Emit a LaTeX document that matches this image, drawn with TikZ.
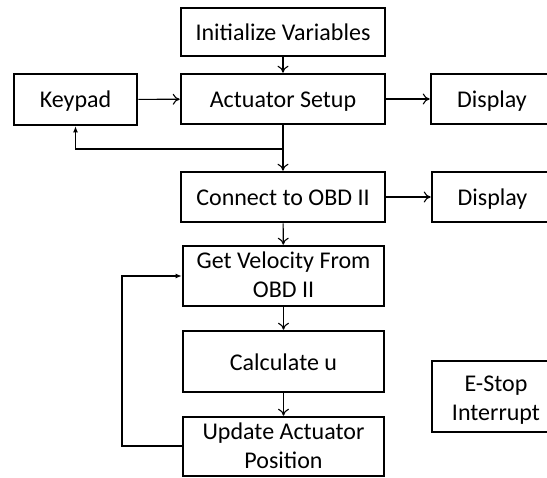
\documentclass[tikz,border=0pt]{standalone}
\usepackage{fontspec}
\setmainfont{Carlito}
\usetikzlibrary{arrows.meta}
\begin{document}
\begin{tikzpicture}
			[x=1pt, y=-1pt,
			box/.style={rectangle, draw, line width=2.6pt, inner sep=0pt, align=center,
				text depth=0pt, text height=18pt, font=\fontsize{24}{29.5}\selectfont},
			arr/.style={line width=1.1pt, -{To[length=7pt,width=11pt]}},
			fb/.style={line width=1.1pt, -{Latex[length=6pt,width=5pt]}}]
			\useasboundingbox (0,0) rectangle (547,478);
			\node[box, minimum width=204pt, minimum height=48pt] (init) at (283,32) {Initialize Variables};
			\node[box, minimum width=204pt, minimum height=50pt] (act) at (283,99) {Actuator Setup};
			\node[box, minimum width=123pt, minimum height=51pt, text height=16pt] (kp) at (75.5,99.5) {Keypad};
			\node[box, minimum width=122pt, minimum height=50pt] (disp1) at (492,99) {Display};
			\node[box, minimum width=204pt, minimum height=50pt, text height=17pt] (conn) at (283,197) {Connect to OBD II};
			\node[box, minimum width=121pt, minimum height=50pt] (disp2) at (492.5,197) {Display};
			\node[box, minimum width=201pt, minimum height=60pt, text height=44pt] (vel) at (283.5,276) {Get Velocity From\\OBD II};
			\node[box, minimum width=201pt, minimum height=61pt] (calc) at (283.5,361.5) {Calculate u};
			\node[box, minimum width=201pt, minimum height=59pt, text height=45pt] (upd) at (283.5,446.5) {Update Actuator\\Position};
			\node[box, minimum width=128pt, minimum height=71pt, text height=49pt] (estop) at (496,396.5) {E-Stop\\Interrupt};
			\coordinate (split) at (283,149);
			\coordinate (back) at (122,446);
			\draw[arr] (init) -- (act);
			\draw[arr] (kp) -- (act);
			\draw[arr] (act) -- (disp1);
			\draw[line width=1.1pt] (act) -- (split);
			\draw[arr] (split) -- (conn);
			\draw[fb] (split) -| (kp.south);
			\draw[arr] (conn) -- (disp2);
			\draw[arr] (conn) -- (vel);
			\draw[arr] (vel) -- (calc);
			\draw[arr] (calc) -- (upd);
			\draw[fb] (upd.west |- back) -- (back) |- (vel.west);
		\end{tikzpicture}
\end{document}
